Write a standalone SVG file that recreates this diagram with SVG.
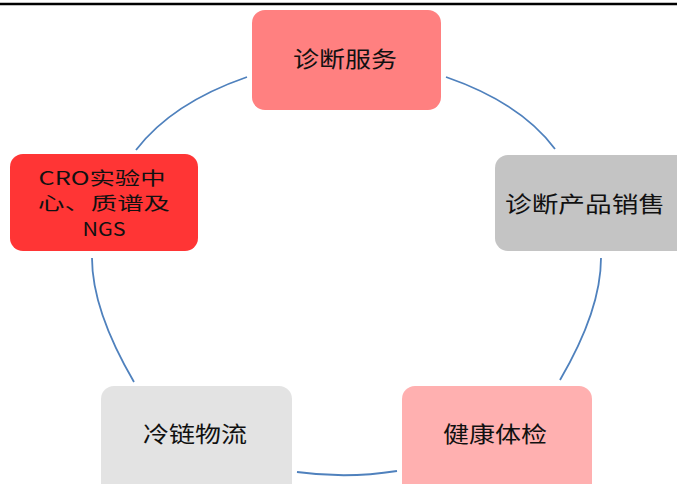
<svg xmlns="http://www.w3.org/2000/svg" width="677" height="484" viewBox="0 0 677 484">
<style>
.n{stroke:none}
.t{font-family:"Noto Sans CJK SC","Liberation Sans",sans-serif;font-size:22px;fill:#111;text-anchor:middle}
.s{font-size:18px}
.c{fill:none;stroke:#4F81BD;stroke-width:1.8}
</style>
<rect x="0" y="0" width="677" height="484" fill="#fff"/>
<line x1="0" y1="4" x2="677" y2="4" stroke="#000" stroke-width="2.5"/>
<g id="connectors">
<path class="c" d="M136,150 Q172,103 247,77"/>
<path class="c" d="M446,77 Q521,103 555,149"/>
<path class="c" d="M601,258 Q601,310 560,380"/>
<path class="c" d="M397,471 Q347,479 297,472"/>
<path class="c" d="M134,382 Q92,310 92,258"/>
</g>
<g id="node-diagnosis-service">
<rect class="n" x="252" y="10" width="189" height="100" rx="13" fill="#FF8080"/>
<text class="t" x="345" y="67" textLength="104" lengthAdjust="spacingAndGlyphs">诊断服务</text>
</g>
<g id="node-product-sales">
<rect class="n" x="495" y="155" width="195" height="96" rx="13" fill="#C4C4C4"/>
<text class="t" x="585" y="212" textLength="160" lengthAdjust="spacingAndGlyphs">诊断产品销售</text>
</g>
<g id="node-health-check">
<rect class="n" x="402" y="386" width="190" height="110" rx="13" fill="#FFB0B0"/>
<text class="t" x="495" y="442" textLength="104" lengthAdjust="spacingAndGlyphs">健康体检</text>
</g>
<g id="node-cold-chain">
<rect class="n" x="101" y="386" width="191" height="110" rx="13" fill="#E3E3E3"/>
<text class="t" x="195" y="442" textLength="104" lengthAdjust="spacingAndGlyphs">冷链物流</text>
</g>
<g id="node-cro">
<rect class="n" x="10" y="154" width="188" height="97" rx="13" fill="#FF3535"/>
<text class="t s" x="102" y="185" textLength="127" lengthAdjust="spacingAndGlyphs">CRO实验中</text>
<text class="t s" x="104" y="210" textLength="132" lengthAdjust="spacingAndGlyphs">心、质谱及</text>
<text class="t s" x="104" y="236" textLength="43" lengthAdjust="spacingAndGlyphs">NGS</text>
</g>
</svg>
